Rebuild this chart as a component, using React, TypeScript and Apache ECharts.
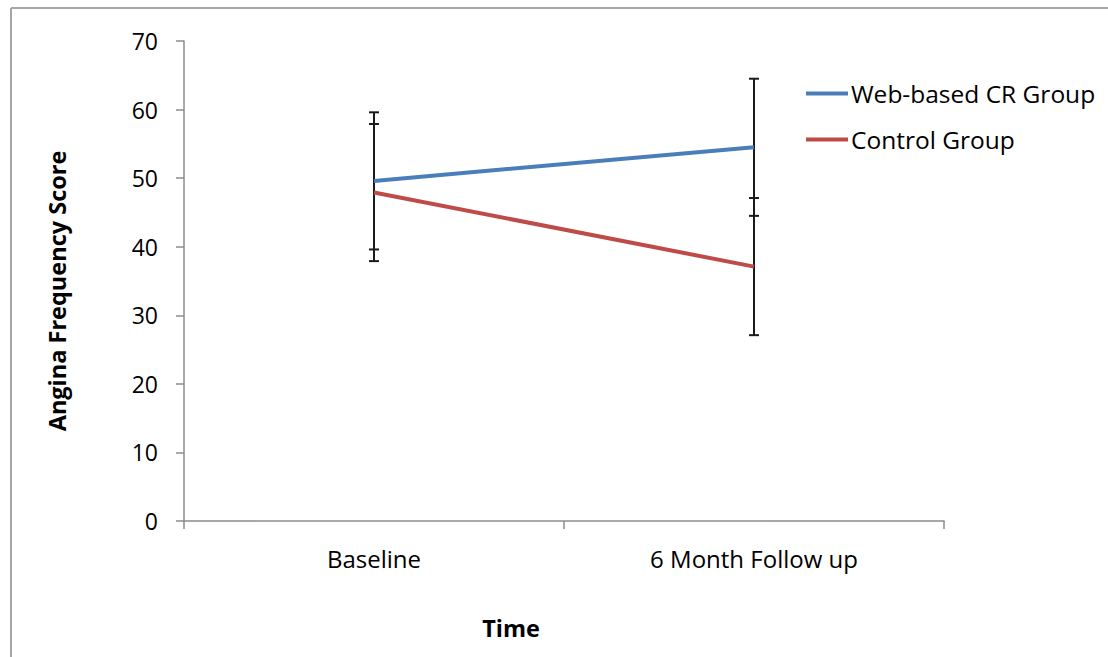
import React, { useEffect, useRef } from "react";
import * as echarts from "echarts";

const categories = ["Baseline", "6 Month Follow up"];
const webMeans = [49.6, 54.5];
const webErr = [10, 10];
const controlMeans = [47.9, 37.1];
const controlErr = [10, 10];
const yTicks = { min: 0, max: 70, interval: 10 };

const FONT = "'Open Sans', 'Liberation Sans', sans-serif";

export default function App() {
  const ref = useRef<HTMLDivElement>(null);
  useEffect(() => {
    if (!ref.current) return;
    const chart = echarts.init(ref.current, undefined, { renderer: "svg" });
    const errData: number[][] = [];
    webMeans.forEach((m, i) => errData.push([i, m - webErr[i], m + webErr[i]]));
    controlMeans.forEach((m, i) => errData.push([i, m - controlErr[i], m + controlErr[i]]));

    chart.setOption({
      animation: false,
      backgroundColor: "#ffffff",
      textStyle: { fontFamily: FONT },
      grid: { left: 184, top: 41, right: 164, bottom: 136, containLabel: false },
      legend: {
        orient: "vertical",
        left: 806,
        top: 81,
        padding: 0,
        itemWidth: 42,
        itemHeight: 4,
        itemGap: 21,
        icon: "rect",
        textStyle: { fontFamily: FONT, fontSize: 24.5, color: "#000", padding: [0, 0, 0, -2] },
        data: ["Web-based CR Group", "Control Group"],
      },
      xAxis: {
        type: "category",
        data: categories,
        boundaryGap: true,
        name: "Time",
        nameLocation: "middle",
        nameGap: 95,
        nameTextStyle: {
          fontFamily: FONT,
          fontSize: 23.5,
          fontWeight: "bold",
          color: "#000",
          padding: [0, 106, 0, 0],
        },
        axisLine: { lineStyle: { color: "#8c8c8c", width: 1.5 } },
        axisTick: { show: true, length: 8, lineStyle: { color: "#8c8c8c", width: 1.5 } },
        axisLabel: { margin: 25, fontFamily: FONT, fontSize: 24, color: "#000" },
      },
      yAxis: {
        type: "value",
        min: yTicks.min,
        max: yTicks.max,
        interval: yTicks.interval,
        name: "Angina Frequency Score",
        nameLocation: "middle",
        nameRotate: 90,
        nameGap: 115,
        nameTextStyle: {
          fontFamily: FONT,
          fontSize: 23.5,
          fontWeight: "bold",
          color: "#000",
          padding: [0, 20, 0, 0],
        },
        axisLine: { show: true, lineStyle: { color: "#8c8c8c", width: 1.5 } },
        axisTick: { show: true, length: 8, lineStyle: { color: "#8c8c8c", width: 1.5 } },
        splitLine: { show: false },
        axisLabel: { margin: 26, fontFamily: FONT, fontSize: 23, color: "#000" },
      },
      graphic: [
        { type: "line", shape: { x1: 11, y1: 8, x2: 1108, y2: 8 }, style: { stroke: "#a6a6a6", lineWidth: 2 } },
        { type: "line", shape: { x1: 11, y1: 8, x2: 11, y2: 657 }, style: { stroke: "#a6a6a6", lineWidth: 2 } },
      ],
      series: [
        {
          type: "custom",
          name: "err",
          z: 1,
          data: errData,
          renderItem: (params: any, api: any) => {
            const x = api.value(0);
            const lo = api.coord([x, api.value(1)]);
            const hi = api.coord([x, api.value(2)]);
            const hw = 5;
            const style = { stroke: "#1a1a1a", lineWidth: 2 };
            return {
              type: "group",
              children: [
                { type: "line", shape: { x1: lo[0], y1: lo[1], x2: hi[0], y2: hi[1] }, style },
                { type: "line", shape: { x1: lo[0] - hw, y1: lo[1], x2: lo[0] + hw, y2: lo[1] }, style },
                { type: "line", shape: { x1: hi[0] - hw, y1: hi[1], x2: hi[0] + hw, y2: hi[1] }, style },
              ],
            };
          },
        },
        {
          type: "line",
          name: "Web-based CR Group",
          z: 3,
          data: webMeans,
          showSymbol: false,
          symbol: "none",
          color: "#4a7ebb",
          lineStyle: { color: "#4a7ebb", width: 4 },
        },
        {
          type: "line",
          name: "Control Group",
          z: 3,
          data: controlMeans,
          showSymbol: false,
          symbol: "none",
          color: "#be4b48",
          lineStyle: { color: "#be4b48", width: 4 },
        },
      ],
    });
    return () => chart.dispose();
  }, []);
  return (
    <div
      ref={ref}
      style={{ position: "absolute", left: 0, top: 0, width: 1108, height: 657 }}
    />
  );
}
